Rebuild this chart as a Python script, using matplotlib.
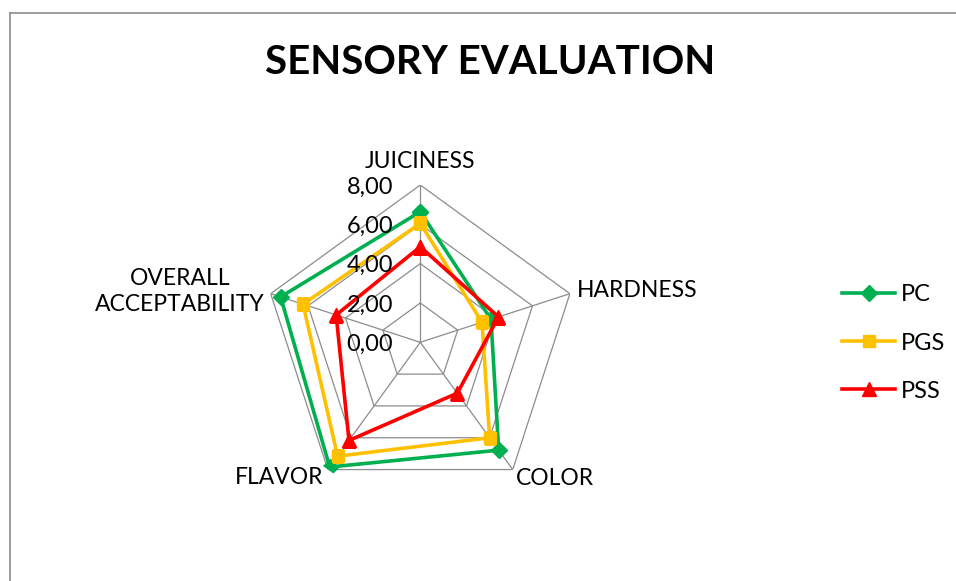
import matplotlib
matplotlib.use("Agg")
import matplotlib.pyplot as plt
import numpy as np
from matplotlib.lines import Line2D

plt.rcParams['font.family'] = ['Lato', 'DejaVu Sans']

# sensory scores per attribute
attributes = ["JUICINESS", "HARDNESS", "COLOR", "FLAVOR", "OVERALL\nACCEPTABILITY"]
pc = [6.64, 3.78, 6.78, 7.84, 7.47]
pgs = [6.05, 3.30, 6.00, 7.16, 6.27]
pss = [4.86, 4.18, 3.20, 6.17, 4.50]
series_names = ["PC", "PGS", "PSS"]
tick_values = [0, 2, 4, 6, 8]
tick_labels = ["0,00", "2,00", "4,00", "6,00", "8,00"]

colors = ["#00B050", "#FFC000", "#FF0000"]
markers = ["D", "s", "^"]
msizes = [8, 9, 9.5]

W, H = 956, 581
fig = plt.figure(figsize=(W / 100, H / 100), dpi=100)

# chart border (cut off at right and bottom)
fig.add_artist(Line2D([9.5 / W, 1], [1 - 12.5 / H, 1 - 12.5 / H], color="#8c8c8c", lw=1.2))
fig.add_artist(Line2D([9.5 / W, 9.5 / W], [0, 1 - 12.5 / H], color="#8c8c8c", lw=1.2))

fig.text(490 / W, 1 - 63 / H, "SENSORY EVALUATION", ha="center", va="center",
         fontsize=29, fontweight="bold")

cx, cy, rad = 420.3, 342.3, 157.3
ax = fig.add_axes([(cx - rad) / W, 1 - (cy + rad) / H, 2 * rad / W, 2 * rad / H],
                  projection="polar")
ax.set_theta_offset(np.pi / 2)
ax.set_theta_direction(-1)
ax.set_ylim(0, 8)
ax.grid(False)
ax.spines["polar"].set_visible(False)
ax.set_xticks([])
ax.set_yticks([])
ax.patch.set_alpha(0)

n = len(attributes)
angles = np.linspace(0, 2 * np.pi, n, endpoint=False)
closed = np.append(angles, angles[0])

# pentagon grid and spokes
for t in tick_values[1:]:
    ax.plot(closed, [t] * (n + 1), color="#8c8c8c", lw=0.9, zorder=1)
for a in angles:
    ax.plot([a, a], [0, 8], color="#8c8c8c", lw=0.9, zorder=1)

for vals, name, c, m, ms in zip([pc, pgs, pss], series_names, colors, markers, msizes):
    v = np.append(vals, vals[0])
    ax.plot(closed, v, color=c, lw=2.6, marker=m, markersize=ms, label=name, zorder=3)

# category labels
offsets = [((0, 17), "center", "center"),
           ((5, 2), "left", "center"),
           ((2.5, -6.5), "left", "center"),
           ((-3.5, -5.5), "right", "center"),
           ((-4.5, 1.5), "right", "center")]
for a, lab, (off, ha, va) in zip(angles, attributes, offsets):
    ax.annotate(lab, xy=(a, 8), xytext=off, textcoords="offset points",
                ha=ha, va=va, fontsize=16.5, multialignment="center",
                linespacing=1.3, annotation_clip=False)

# radial value labels
for t, lab in zip(tick_values, tick_labels):
    ax.annotate(lab, xy=(0, t), xytext=(-19.5, -1.5), textcoords="offset points",
                ha="right", va="center", fontsize=17, zorder=5,
                annotation_clip=False)

fig.legend(loc="center left", bbox_to_anchor=(842 / W, 1 - 343 / H), frameon=False,
           fontsize=17, handlelength=2.25, handletextpad=0.25, labelspacing=1.15,
           borderpad=0, borderaxespad=0)

fig.savefig("out.png", dpi=100)
